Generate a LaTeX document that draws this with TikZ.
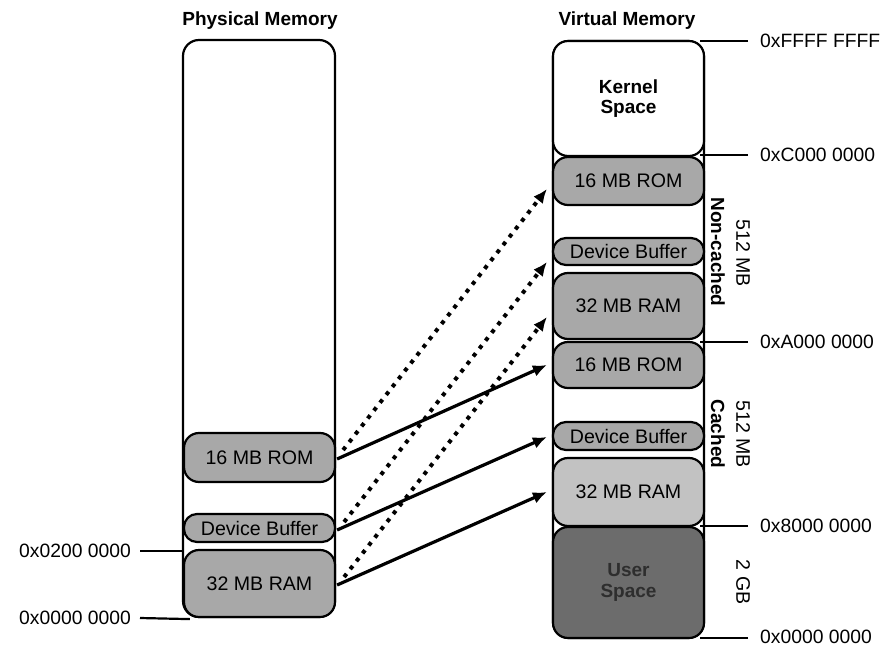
\documentclass[tikz,border=0pt]{standalone}
\usepackage{fontspec}
\setmainfont{Liberation Sans}
\usetikzlibrary{arrows.meta,calc}
\definecolor{gmid}{HTML}{A8A8A8}
\definecolor{glight}{HTML}{C2C2C2}
\definecolor{gdark}{HTML}{6C6C6C}
\definecolor{gtext}{HTML}{2E2E2E}
\begin{document}
\begin{tikzpicture}[x=1pt,y=-1pt,
  colbox/.style={draw=black, line width=2.2pt, rounded corners=16pt, inner sep=0pt},
  seg/.style={draw=black, line width=2.2pt, rounded corners=15pt, fill=gmid, inner sep=0pt,
    minimum width=151pt, font=\fontsize{19.6}{22}\selectfont},
  pill/.style={seg, rounded corners=13pt},
  head/.style={font=\fontsize{19}{21}\selectfont\bfseries, anchor=base},
  addr/.style={font=\fontsize{19.3}{22}\selectfont, inner sep=1pt},
  vlab/.style={font=\fontsize{19.6}{22}\selectfont, rotate=-90},
  vlabb/.style={font=\fontsize{19}{22}\selectfont\bfseries, rotate=-90},
  tick/.style={line width=2.2pt},
  solidarr/.style={line width=3.2pt, -{Latex[length=14pt,width=12pt]}},
  dotarr/.style={line width=4pt, dash pattern=on 4pt off 6pt, -{Latex[length=14pt,width=12pt]}}
]
\useasboundingbox (0,0) rectangle (888,647);

% headings
\node[head] (hphys) at (260,26) {Physical Memory};
\node[head] (hvirt) at (627,26) {Virtual Memory};

% physical memory column
\node[colbox, minimum width=152pt, minimum height=577pt] (lcol) at (259,328.5) {};
\node[seg, minimum height=49pt] (lrom) at (259.5,457.5) {16 MB ROM};
\node[pill, minimum height=28pt] (ldev) at (259.5,528) {Device Buffer};
\node[seg, minimum height=67pt] (lram) at (259.5,583.5) {32 MB RAM};

% virtual memory column
\node[colbox, minimum width=151pt, minimum height=597pt] (rcol) at (628.5,339.5) {};
\node[seg, fill=white, minimum height=115pt, align=center,
  font=\fontsize{19}{20}\selectfont\bfseries] (kern) at (628.5,98.5) {Kernel\\Space};
\node[seg, minimum height=48pt] (nrom) at (628.5,181) {16 MB ROM};
\node[pill, minimum height=27pt] (ndev) at (628.5,251.5) {Device Buffer};
\node[seg, minimum height=66pt] (nram) at (628.5,306) {32 MB RAM};
\node[seg, minimum height=46pt] (crom) at (628.5,365) {16 MB ROM};
\node[pill, minimum height=28pt] (cdev) at (628.5,436) {Device Buffer};
\node[seg, fill=glight, minimum height=68pt] (cram) at (628.5,492) {32 MB RAM};
\node[seg, fill=gdark, minimum height=111pt, align=center, text=gtext,
  font=\fontsize{19}{21}\selectfont\bfseries] (user) at (628.5,582.5) {User\\Space};

% left address marks
\coordinate (la1) at (140,551);
\coordinate (la0) at (140,618);
\draw[tick] (la1) -- (lcol.west |- la1);
\draw[tick] (la0) -- ($(lcol.south west)+(8,1)$);
\node[addr, anchor=east] (t1) at (132,551) {0x0200 0000};
\node[addr, anchor=east] (t0) at (132,618) {0x0000 0000};

% right address marks
\coordinate (ra4) at (748,41);
\coordinate (ra3) at (748,155);
\coordinate (ra2) at (748,342);
\coordinate (ra1) at (748,526);
\coordinate (ra0) at (748,638);
\foreach \c in {ra4,ra3,ra2,ra1,ra0}{\draw[tick] (\c) -- ($(rcol.east |- \c)+(-5,0)$);}
\node[addr, anchor=west] (r4) at (759,41) {0xFFFF FFFF};
\node[addr, anchor=west] (r3) at (759,155) {0xC000 0000};
\node[addr, anchor=west] (r2) at (759,342) {0xA000 0000};
\node[addr, anchor=west] (r1) at (759,526) {0x8000 0000};
\node[addr, anchor=west] (r0) at (759,637) {0x0000 0000};

% region labels
\node[vlabb] (nc) at (718,252) {Non-cached};
\node[vlab] (nc2) at (743,253) {512 MB};
\node[vlabb] (ca) at (718,434) {Cached};
\node[vlab] (ca2) at (743,434) {512 MB};
\node[vlab] (gb) at (743,582) {2 GB};

% solid (cached) mappings
\draw[solidarr] ($(lrom.east)+(1,1.5)$) -- ($(crom.west)+(-5,0)$);
\draw[solidarr] ($(ldev.east)+(1,2)$) -- ($(cdev.west)+(-5,1)$);
\draw[solidarr] ($(lram.east)+(1,1.5)$) -- ($(cram.west)+(-5,0)$);

% dotted (non-cached) mappings
\draw[dotarr] ($(lrom.east)+(7,-7.5)$) -- ($(nrom.west)+(-5,8)$);
\draw[dotarr] ($(ldev.east)+(8,-6)$) -- ($(ndev.west)+(-5,10.5)$);
\draw[dotarr] ($(lram.east)+(8,-6.5)$) -- ($(nram.west)+(-5,11)$);
\end{tikzpicture}
\end{document}
